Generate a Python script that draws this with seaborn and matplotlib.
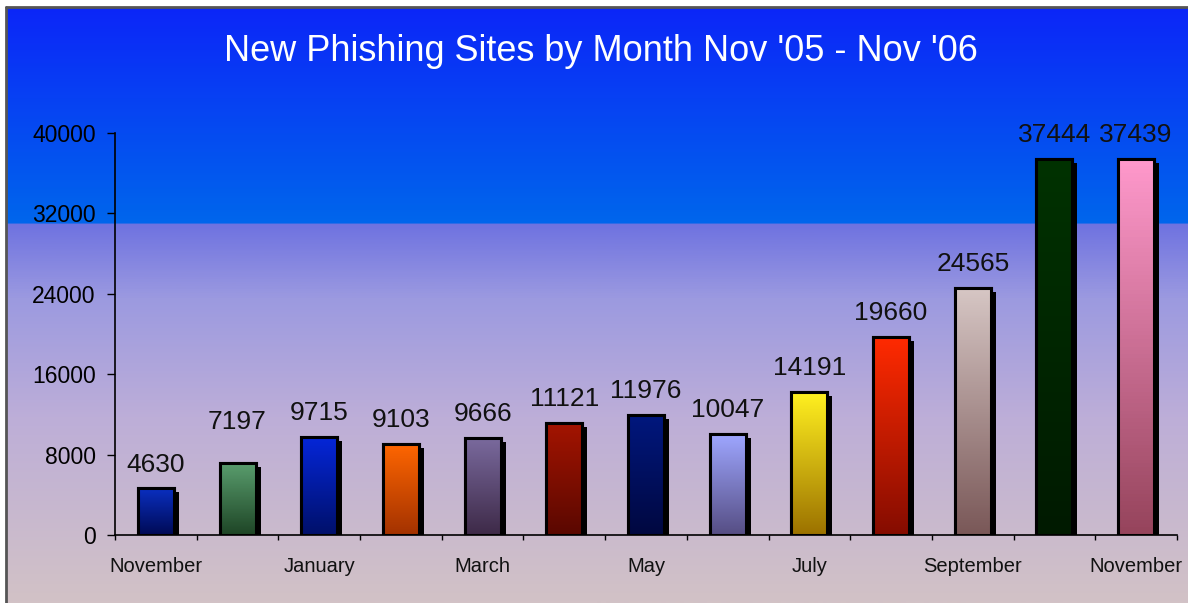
import numpy as np
import matplotlib
matplotlib.use('Agg')
import matplotlib.pyplot as plt
import matplotlib.patheffects as pe
from matplotlib.colors import LinearSegmentedColormap
from matplotlib.patches import Rectangle
from matplotlib.lines import Line2D
import seaborn as sns

# Data
months = ["Nov '05", "Dec '05", "Jan '06", "Feb '06", "Mar '06", "Apr '06", "May '06",
          "Jun '06", "Jul '06", "Aug '06", "Sep '06", "Oct '06", "Nov '06"]
new_sites = [4630, 7197, 9715, 9103, 9666, 11121, 11976, 10047, 14191, 19660, 24565, 37444, 37439]
tick_labels = ['November', '', 'January', '', 'March', '', 'May', '', 'July', '',
               'September', '', 'November']
top_colors = ['#0a2fc0', '#5a9e6e', '#0526d8', '#ff6600', '#7a6a9e', '#a31400', '#00177e',
              '#9ea6ff', '#fff020', '#ff2a00', '#d6c6c4', '#003200', '#ff99cc']
bottom_colors = ['#000a55', '#1e4526', '#00106a', '#a33200', '#3e2a48', '#5a0800', '#000840',
                 '#564e84', '#9c7200', '#850c00', '#7a5858', '#001a00', '#96445c']

sns.set_theme(style='white')
plt.rcParams['font.family'] = ['Liberation Sans', 'DejaVu Sans']

W, H = 1188, 603
fig = plt.figure(figsize=(W / 100, H / 100), dpi=100)
fig.patch.set_facecolor('white')

# Background gradient panel
bg = fig.add_axes([6 / W, 0, 1 - 6 / W, 1 - 7 / H])
bg_cmap = LinearSegmentedColormap.from_list('bg', [
    (0.0, '#0c26f8'), (0.361, '#0066ec'), (0.363, '#6e72e0'),
    (0.49, '#9c9ae0'), (0.69, '#bdaed8'), (1.0, '#d2c2c6')])
bg.imshow(np.linspace(0, 1, 600).reshape(-1, 1), cmap=bg_cmap, aspect='auto',
          extent=(0, 1, 1, 0))
bg.set_axis_off()
fig.add_artist(Line2D([6 / W, 6 / W], [0, 1 - 7 / H], color='#555555', lw=2))
fig.add_artist(Line2D([6 / W, 1], [1 - 7 / H, 1 - 7 / H], color='#555555', lw=2))

# Main chart
ax = fig.add_axes([115 / W, 68 / H, 1062 / W, 402 / H])
ax.patch.set_alpha(0)
sns.barplot(x=months, y=new_sites, hue=months, palette=top_colors, legend=False,
            width=0.44, saturation=1, edgecolor='black', linewidth=2.2, ax=ax)

for i, patch in enumerate(ax.patches):
    x0, w, h = patch.get_x(), patch.get_width(), patch.get_height()
    patch.set_path_effects([pe.SimplePatchShadow(offset=(3.6, -2.9),
                                                 shadow_rgbFace='black', alpha=1),
                            pe.Normal()])
    cmap = LinearSegmentedColormap.from_list(f'bar{i}', [bottom_colors[i], top_colors[i]])
    im = ax.imshow(np.linspace(0, 1, 100).reshape(-1, 1), cmap=cmap, aspect='auto',
                   origin='lower', extent=(x0, x0 + w, 0, h), zorder=patch.get_zorder() + 0.1)
    im.set_clip_path(patch)
    ax.add_patch(Rectangle((x0, 0), w, h, fill=False, edgecolor='black', lw=2.2,
                           zorder=patch.get_zorder() + 0.2))

# Value labels (December's label sits higher in the original)
label_lift = {1: 12}
for i, v in enumerate(new_sites):
    ax.annotate(str(v), (i, v), xytext=(0, 12.2 + label_lift.get(i, 0)),
                textcoords='offset points', ha='center', va='baseline',
                fontsize=19, color='#111111')

ax.set_xlim(-0.5, 12.5)
ax.set_ylim(0, 40000)
ax.set_yticks(range(0, 40001, 8000))
ax.set_xticks(range(13))
ax.set_xticklabels(tick_labels)
ax.set_xticks(np.arange(-0.5, 13, 1), minor=True)
ax.tick_params(axis='x', which='major', length=0, pad=16, labelsize=14.5, colors='#111111')
ax.tick_params(axis='x', which='minor', length=3.6, width=1, direction='out',
               bottom=True, color='black')
ax.tick_params(axis='y', length=5.8, width=1, direction='out', left=True, pad=8,
               labelsize=16.5, colors='#111111')
ax.tick_params(axis='y', colors='black')
for s in ['top', 'right']:
    ax.spines[s].set_visible(False)
for s in ['left', 'bottom']:
    ax.spines[s].set_color('black')
    ax.spines[s].set_linewidth(1.2)
ax.set_xlabel('')
ax.set_ylabel('')

fig.text(601 / W, 1 - 61 / H, "New Phishing Sites by Month Nov '05 - Nov '06",
         ha='center', va='baseline', fontsize=26, color='white')

fig.savefig('out.png', dpi=100)
